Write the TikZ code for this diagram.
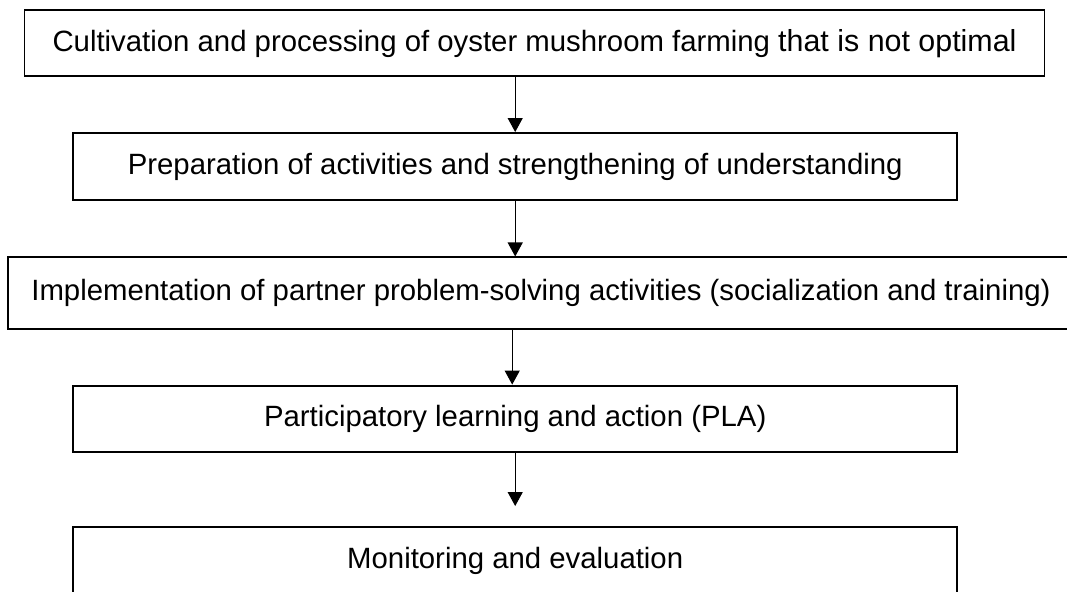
\documentclass[tikz,border=0pt]{standalone}
\usepackage{fontspec}
\setmainfont{Liberation Sans}
\usetikzlibrary{arrows.meta}

\begin{document}
\begin{tikzpicture}[x=0.02cm,y=-0.02cm,
    kotak/.style={draw,line width=1.1pt,inner sep=0pt,font=\fontsize{16.7}{20}\selectfont},
    panah/.style={line width=0.6pt,-{Triangle[width=0.3cm,length=0.28cm]}}]
    \clip (0,0) rectangle (1067,591);
    % kotak-kotak tahapan
    \node[kotak,minimum width=1020*0.02cm,minimum height=66.5*0.02cm] (b1) at (534.5,43.2) {Cultivation and processing of oyster mushroom farming {\fontsize{17.3}{20}\selectfont that is not optimal}};
    \node[kotak,minimum width=883.5*0.02cm,minimum height=67*0.02cm] (b2) at (515.2,166.5) {Preparation of activities and strengthening of understanding};
    \node[kotak,minimum width=1066*0.02cm,minimum height=71.5*0.02cm] (b3) at (541,293.2) {Implementation of partner problem-solving activities (socialization and training)};
    \node[kotak,minimum width=883.5*0.02cm,minimum height=66.5*0.02cm] (b4) at (515.2,418.8) {Participatory learning and action (PLA)};
    \node[kotak,minimum width=883.5*0.02cm,minimum height=67*0.02cm] (b5) at (515.2,560.5) {Monitoring and evaluation};
    % titik ujung panah terakhir
    \coordinate (u5) at ([yshift=0.4cm]b5.north);

    % pembuatan panah
    \draw[panah] (b1.south -| b2.north) -- (b2.north);
    \draw[panah] (b2.south) -- (b2.south |- b3.north);
    \draw[panah] ([xshift=-0.06cm]b3.south -| b4.north) -- ([xshift=-0.06cm]b4.north);
    \draw[panah] (b4.south) -- (u5);
\end{tikzpicture}
\end{document}
